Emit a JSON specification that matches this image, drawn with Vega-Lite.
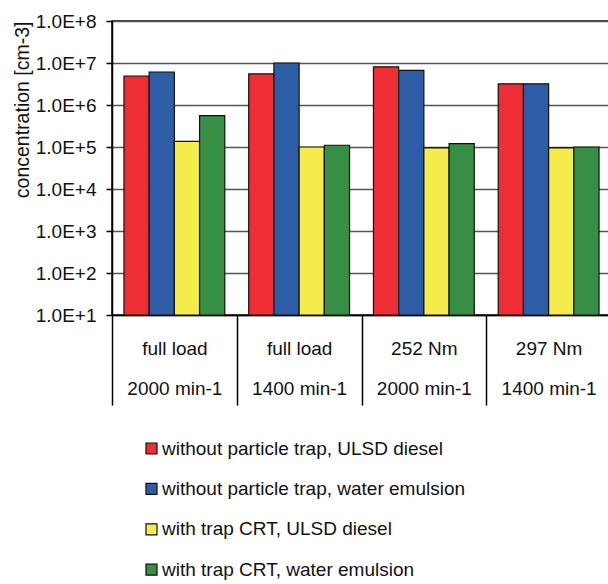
{
  "$schema": "https://vega.github.io/schema/vega-lite/v6.json",
  "autosize": "none",
  "padding": {"left": 112, "top": 21, "right": 0, "bottom": 269},
  "width": 499,
  "height": 294,
  "config": {
    "font": "Liberation Sans",
    "view": {"stroke": "#000", "strokeWidth": 1.5}
  },
  "data": {
    "values": [
      {"cond": "full load|2000 min-1", "series": "without particle trap, ULSD diesel", "value": 4900000},
      {"cond": "full load|2000 min-1", "series": "without particle trap, water emulsion", "value": 6100000},
      {"cond": "full load|2000 min-1", "series": "with trap CRT, ULSD diesel", "value": 136000},
      {"cond": "full load|2000 min-1", "series": "with trap CRT, water emulsion", "value": 560000},
      {"cond": "full load|1400 min-1", "series": "without particle trap, ULSD diesel", "value": 5500000},
      {"cond": "full load|1400 min-1", "series": "without particle trap, water emulsion", "value": 10000000},
      {"cond": "full load|1400 min-1", "series": "with trap CRT, ULSD diesel", "value": 100000},
      {"cond": "full load|1400 min-1", "series": "with trap CRT, water emulsion", "value": 110000},
      {"cond": "252 Nm|2000 min-1", "series": "without particle trap, ULSD diesel", "value": 8100000},
      {"cond": "252 Nm|2000 min-1", "series": "without particle trap, water emulsion", "value": 6700000},
      {"cond": "252 Nm|2000 min-1", "series": "with trap CRT, ULSD diesel", "value": 95000},
      {"cond": "252 Nm|2000 min-1", "series": "with trap CRT, water emulsion", "value": 120000},
      {"cond": "297 Nm|1400 min-1", "series": "without particle trap, ULSD diesel", "value": 3200000},
      {"cond": "297 Nm|1400 min-1", "series": "without particle trap, water emulsion", "value": 3200000},
      {"cond": "297 Nm|1400 min-1", "series": "with trap CRT, ULSD diesel", "value": 95000},
      {"cond": "297 Nm|1400 min-1", "series": "with trap CRT, water emulsion", "value": 100000}
    ]
  },
  "mark": {"type": "bar", "stroke": "#111", "strokeWidth": 1.2},
  "encoding": {
    "x": {
      "field": "cond",
      "type": "nominal",
      "sort": null,
      "scale": {"paddingInner": 0, "paddingOuter": 0},
      "axis": {
        "title": null,
        "labelAngle": 0,
        "labelExpr": "split(datum.label, '|')",
        "labelFontSize": 19,
        "labelColor": "#111",
        "labelLineHeight": 40,
        "labelPadding": -66,
        "tickBand": "extent",
        "tickSize": 90,
        "tickWidth": 1.5,
        "tickColor": "#000",
        "domainColor": "#000",
        "domainWidth": 1.5,
        "grid": false
      }
    },
    "xOffset": {
      "field": "series",
      "type": "nominal",
      "sort": null,
      "scale": {"paddingInner": 0, "paddingOuter": 0.475}
    },
    "y": {
      "field": "value",
      "type": "quantitative",
      "scale": {"type": "log", "domain": [10, 100000000], "nice": false},
      "axis": {
        "title": "concentration [cm-3]",
        "titleFontSize": 19.5,
        "titleFontWeight": "normal",
        "titleColor": "#111",
        "titleAnchor": "end",
        "titlePadding": 3,
        "values": [10, 100, 1000, 10000, 100000, 1000000, 10000000, 100000000],
        "labelExpr": "'1.0E+' + round(log(datum.value) / LN10)",
        "labelFontSize": 19,
        "labelColor": "#111",
        "labelPadding": 10,
        "tickSize": 6,
        "tickColor": "#000",
        "tickWidth": 1.5,
        "domainColor": "#000",
        "domainWidth": 1.5,
        "gridColor": "#555",
        "gridWidth": 1.5,
        "gridOpacity": 1
      }
    },
    "y2": {"datum": 10},
    "color": {
      "field": "series",
      "type": "nominal",
      "sort": null,
      "scale": {
        "domain": ["without particle trap, ULSD diesel", "without particle trap, water emulsion", "with trap CRT, ULSD diesel", "with trap CRT, water emulsion"],
        "range": ["#EE2E34", "#2E5DA8", "#F5EB4B", "#368F45"]
      },
      "legend": {
        "title": null,
        "orient": "none",
        "legendX": 30,
        "legendY": 418,
        "symbolType": "square",
        "symbolSize": 121,
        "symbolStrokeColor": "#111",
        "symbolStrokeWidth": 1.2,
        "symbolOpacity": 1,
        "labelFontSize": 19,
        "labelColor": "#111",
        "labelOffset": 1,
        "rowPadding": 20.4,
        "labelLimit": 500
      }
    }
  }
}
